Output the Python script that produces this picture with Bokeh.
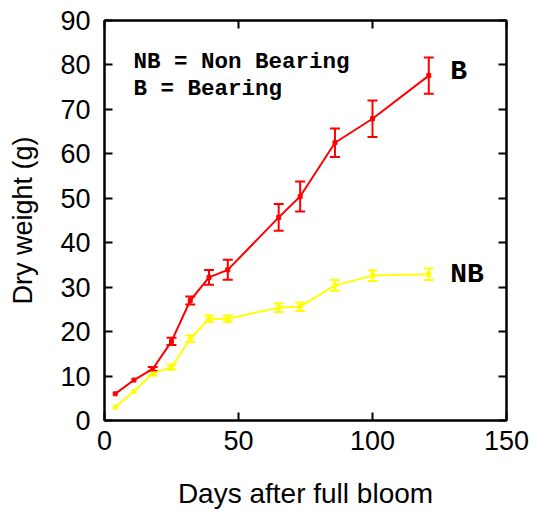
from bokeh.plotting import figure
from bokeh.models import ColumnDataSource, Whisker, TeeHead, LinearAxis, FixedTicker, Range1d
from bokeh.embed import file_html
from bokeh.resources import INLINE
from bokeh.core.properties import value

# ---- data ----
days = [4, 11, 18, 25, 32, 39, 46, 65, 73, 86, 100, 121]
bearing = [6.0, 9.1, 11.6, 17.8, 27.0, 32.2, 33.9, 45.7, 50.4, 62.5, 67.9, 77.6]
bearing_err = [0.0, 0.0, 0.45, 0.8, 0.9, 1.65, 2.25, 3.0, 3.4, 3.2, 4.1, 4.1]
nonbearing = [3.0, 6.6, 10.6, 12.0, 18.4, 22.9, 22.9, 25.4, 25.6, 30.4, 32.6, 32.9]
nonbearing_err = [0.0, 0.0, 0.55, 0.6, 0.75, 0.75, 0.75, 1.0, 0.95, 1.2, 1.2, 1.3]
x_ticks = [0, 50, 100, 150]
y_ticks = [0, 10, 20, 30, 40, 50, 60, 70, 80, 90]
legend_lines = ["NB = Non Bearing", "B = Bearing"]
x_title = "Days after full bloom"
y_title = "Dry weight (g)"

RED = "#ff0000"
YELLOW = "#ffff00"

p = figure(width=533, height=511, output_backend="svg", toolbar_location=None,
           x_range=Range1d(0, 150), y_range=Range1d(0, 90),
           min_border_left=104, min_border_right=27, min_border_top=20,
           min_border_bottom=91)
p.grid.visible = False
p.outline_line_color = "black"
p.outline_line_width = 2
p.outline_line_alpha = 1

for ax in (p.xaxis[0], p.yaxis[0]):
    ax.major_tick_in = 8
    ax.major_tick_out = 0
    ax.minor_tick_in = 0
    ax.minor_tick_out = 0
    ax.major_tick_line_width = 2
    ax.axis_line_width = 2
    ax.major_label_text_font = "Liberation Sans"
    ax.major_label_text_font_size = "27px"
    ax.major_label_text_color = "black"
    ax.axis_label_text_font = "Liberation Sans"
    ax.axis_label_text_font_style = "normal"
    ax.axis_label_text_color = "black"

p.xaxis[0].ticker = FixedTicker(ticks=x_ticks)
p.yaxis[0].ticker = FixedTicker(ticks=y_ticks)
p.xaxis[0].major_label_standoff = 10
p.yaxis[0].major_label_standoff = 14
p.yaxis[0].axis_label = y_title
p.yaxis[0].axis_label_text_font_size = "27px"
p.yaxis[0].axis_label_standoff = 19
p.xaxis[0].axis_label = x_title
p.xaxis[0].axis_label_text_font_size = "28px"
p.xaxis[0].axis_label_standoff = 25

# tick-only axes on top and right
for loc, tk in (("above", x_ticks), ("right", y_ticks)):
    ax = LinearAxis(ticker=FixedTicker(ticks=tk))
    ax.major_tick_in = 8
    ax.major_tick_out = 0
    ax.minor_tick_in = 0
    ax.minor_tick_out = 0
    ax.major_tick_line_width = 2
    ax.axis_line_width = 2
    ax.major_label_text_font_size = "1px"
    ax.major_label_text_alpha = 0
    ax.major_label_standoff = 0
    p.add_layout(ax, loc)

def series(y, err, color):
    src = ColumnDataSource(dict(x=days, y=y))
    p.line("x", "y", source=src, line_color=color, line_width=2)
    p.scatter("x", "y", source=src, marker="square", size=4,
              fill_color=color, line_color=color)
    xs = [d for d, e in zip(days, err) if e > 0]
    lo = [v - e for v, e in zip(y, err) if e > 0]
    up = [v + e for v, e in zip(y, err) if e > 0]
    wsrc = ColumnDataSource(dict(x=xs, lower=lo, upper=up))
    w = Whisker(source=wsrc, base="x", lower="lower", upper="upper",
                line_color=color, line_width=2,
                upper_head=TeeHead(size=10, line_color=color, line_width=2),
                lower_head=TeeHead(size=10, line_color=color, line_width=2))
    p.add_layout(w)

series(nonbearing, nonbearing_err, YELLOW)
series(bearing, bearing_err, RED)

# end-of-series labels
mono = value("Liberation Mono")
p.text(x=[days[-1] + 8], y=[bearing[-1]], text=["B"], text_font=mono,
       text_font_size="28px", text_font_style="bold", text_baseline="middle",
       y_offset=-4, text_color="black")
p.text(x=[days[-1] + 8], y=[nonbearing[-1]], text=["NB"], text_font=mono,
       text_font_size="28px", text_font_style="bold", text_baseline="middle",
       text_color="black")

# note
p.text(x=[10.8, 10.8], y=[80.6, 74.6], text=legend_lines, text_font=mono,
       text_font_size="22.5px", text_font_style="bold", text_baseline="alphabetic",
       text_color="black")

open("out.html", "w").write(file_html(p, INLINE))
